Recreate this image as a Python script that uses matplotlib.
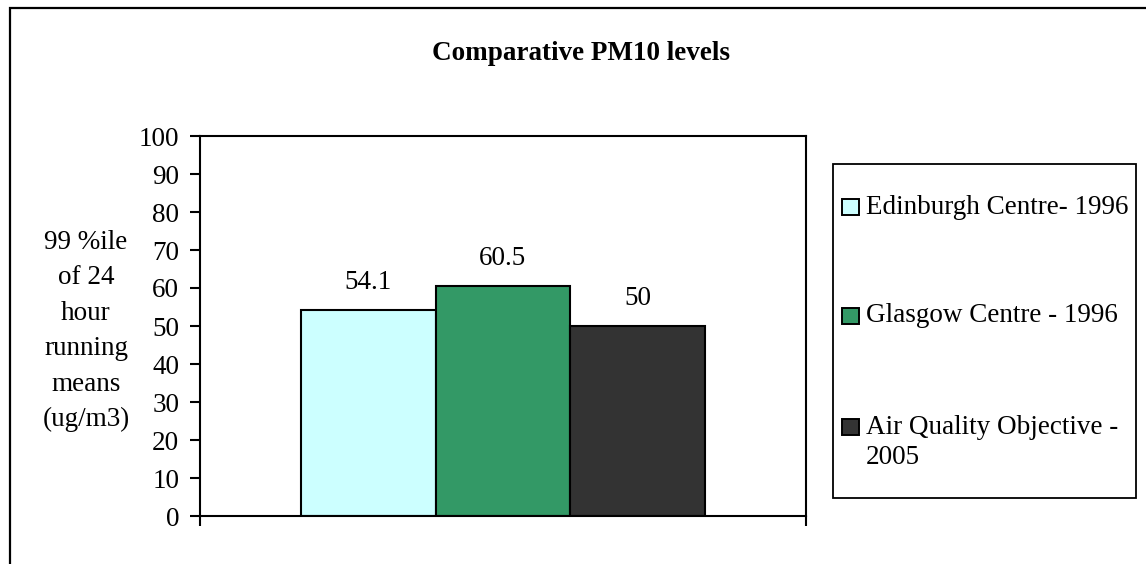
import numpy as np
import matplotlib.pyplot as plt
from matplotlib.patches import Rectangle

plt.rcParams['font.family'] = 'Liberation Serif'
plt.rcParams['font.size'] = 19.5

# PM10 99th percentile of 24 hour running means (ug/m3)
series = ['Edinburgh Centre- 1996', 'Glasgow Centre - 1996', 'Air Quality Objective -\n2005']
values = [54.1, 60.5, 50]
labels = ['54.1', '60.5', '50']
colors = ['#CCFFFF', '#339966', '#333333']

W, H = 1146, 564
fig = plt.figure(figsize=(W/100.0, H/100.0), dpi=100, facecolor='w')

# outer chart frame (runs off the right and bottom edges)
fig.add_artist(Rectangle((10.0/W, -0.2), 1.5, 1.2 - 8.0/H, transform=fig.transFigure,
                         fill=False, edgecolor='k', linewidth=1.6, clip_on=False))

ax = fig.add_axes([200.0/W, 1 - 516.0/H, 606.0/W, 380.0/H])

bw = 0.668/len(values)
x0 = 0.5 - bw*len(values)/2.0
for i, (v, c, lb) in enumerate(zip(values, colors, labels)):
    xc = x0 + bw*(i + 0.5)
    ax.bar(xc, v, width=bw, color=c, edgecolor='k', linewidth=1.5)
    ax.annotate(lb, (xc, v), xytext=(0, 20), textcoords='offset points',
                ha='center', va='center')

ax.set_xlim(0, 1)
ax.set_ylim(0, 100)
ax.set_yticks(np.arange(0, 101, 10))
ax.set_xticks([0, 1])
ax.set_xticklabels([])
ax.tick_params(axis='y', direction='out', length=7, width=1.5, pad=8)
ax.tick_params(axis='x', direction='out', length=7, width=1.5)
for s in ax.spines.values():
    s.set_linewidth(1.5)

fig.text(86.0/W, 1 - 331.0/H, '99 %ile\nof 24\nhour\nrunning\nmeans\n(ug/m3)',
         ha='center', va='center', multialignment='center', linespacing=1.55)

fig.text(581.0/W, 1 - 54.0/H, 'Comparative PM10 levels', ha='center', va='center',
         fontweight='bold')

# legend box
lx0, lx1, ly0, ly1 = 833.0, 1136.0, 164.0, 498.0
fig.add_artist(Rectangle((lx0/W, 1 - ly1/H), (lx1 - lx0)/W, (ly1 - ly0)/H,
                         transform=fig.transFigure, fill=False, edgecolor='k', linewidth=1.3))
entry_y = [207.0, 316.0, 427.0]
for name, c, y in zip(series, colors, entry_y):
    fig.add_artist(Rectangle((842.0/W, 1 - (y + 8)/H), 17.0/W, 16.0/H,
                             transform=fig.transFigure, facecolor=c, edgecolor='k', linewidth=1.4))
    first = name.split('\n')[0]
    rest = name.split('\n')[1:]
    fig.text(866.0/W, 1 - y/H, first, ha='left', va='center')
    for k, line in enumerate(rest):
        fig.text(866.0/W, 1 - (y + 30.0*(k + 1))/H, line, ha='left', va='center')

fig.savefig('out.png', dpi=100, facecolor='w')
